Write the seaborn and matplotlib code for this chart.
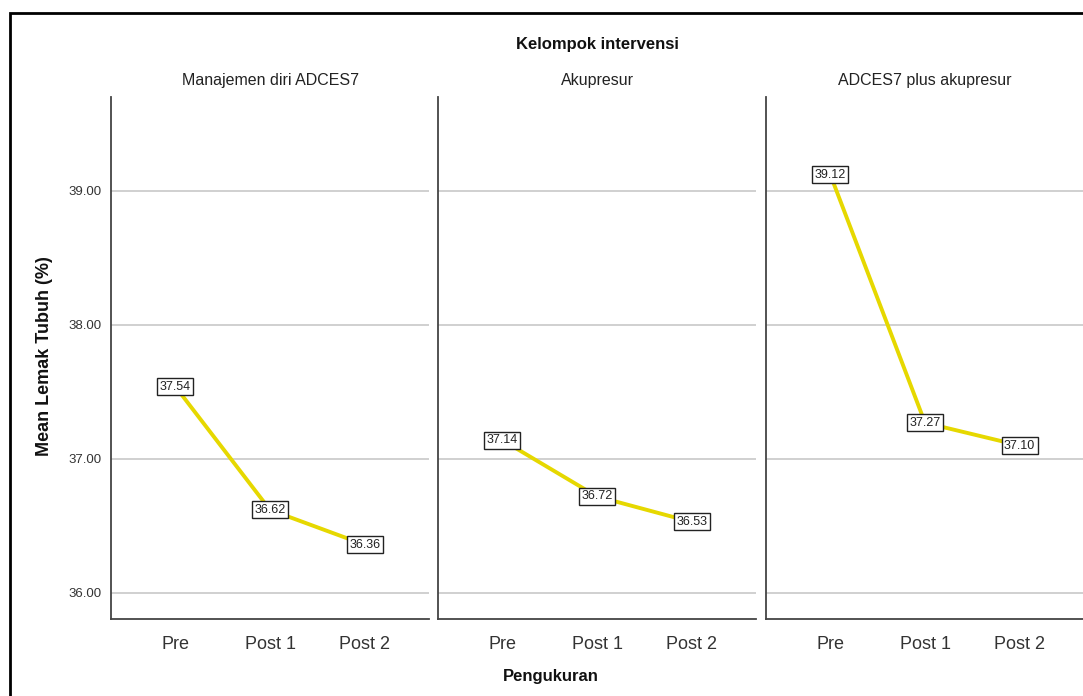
import matplotlib
matplotlib.use('Agg')
import matplotlib.pyplot as plt
from matplotlib.patches import Rectangle
import seaborn as sns
import pandas as pd

# data
categories = ['Pre', 'Post 1', 'Post 2']
groups = ['Manajemen diri ADCES7', 'Akupresur', 'ADCES7 plus akupresur']
adces7 = [37.54, 36.62, 36.36]
akupresur = [37.14, 36.72, 36.53]
adces7_plus = [39.12, 37.27, 37.10]
y_ticks = [36.0, 37.0, 38.0, 39.0]

df = pd.DataFrame({
    'group': [g for g in groups for _ in categories],
    'pengukuran': categories * len(groups),
    'mean': adces7 + akupresur + adces7_plus,
})

sns.set_style('white')
plt.rcParams['font.family'] = ['Liberation Sans', 'DejaVu Sans']

W, H = 1083, 696
fig = plt.figure(figsize=(W / 100, H / 100), dpi=100)

lefts = [111, 438, 766]
pw = 318
bottom, top = 619, 97
line_col = '#E6D800'
spine_col = '#444444'

for i, g in enumerate(groups):
    ax = fig.add_axes([lefts[i] / W, (H - bottom) / H, pw / W, (bottom - top) / H])
    sub = df[df['group'] == g]
    for yt in y_ticks:
        ax.axhline(yt, color='#c4c4c4', lw=1.1, zorder=0)
    sns.lineplot(data=sub, x='pengukuran', y='mean', ax=ax, sort=False,
                 color=line_col, lw=2.8, zorder=2)
    for j, v in enumerate(sub['mean']):
        ax.text(j, v, f'{v:.2f}', ha='center', va='center', fontsize=9,
                color='#222222', zorder=3,
                bbox=dict(boxstyle='square,pad=0.2', fc='white', ec='#222222', lw=1))
    ax.set_xlim(-0.68, 2.68)
    ax.set_ylim(35.806, 39.70)
    ax.set_yticks(y_ticks)
    ax.set_xlabel('')
    ax.set_ylabel('')
    ax.set_title(g, fontsize=11.5, color='#222222', pad=9)
    ax.tick_params(axis='both', length=0)
    ax.tick_params(axis='x', labelsize=13, colors='#333333', pad=12)
    ax.tick_params(axis='y', labelsize=9.5, colors='#333333', pad=7)
    if i == 0:
        ax.set_yticklabels([f'{t:.2f}' for t in y_ticks])
    else:
        ax.set_yticklabels([])
    for s in ['top', 'right']:
        ax.spines[s].set_visible(False)
    for s in ['left', 'bottom']:
        ax.spines[s].set_color(spine_col)
        ax.spines[s].set_linewidth(1.3)

fig.text(597 / W, 1 - 44 / H, 'Kelompok intervensi', ha='center', va='center',
         fontsize=12, fontweight='bold', color='#111111')
fig.text(551 / W, 1 - 677 / H, 'Pengukuran', ha='center', va='center',
         fontsize=12, fontweight='bold', color='#111111')
fig.text(45 / W, 1 - 356 / H, 'Mean Lemak Tubuh (%)', ha='center', va='center',
         rotation=90, fontsize=13, fontweight='bold', color='#111111')

# outer frame (cropped on the right and bottom)
fig.patches.append(Rectangle((9.5 / W, -0.1), 1.2, 1.1 - 12.5 / H,
                             transform=fig.transFigure, fill=False,
                             ec='black', lw=2, clip_on=False))

fig.savefig('out.png', dpi=100)
